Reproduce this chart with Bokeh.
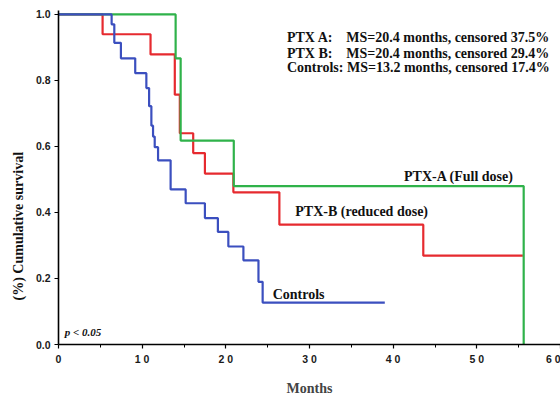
import math
from bokeh.plotting import figure
from bokeh.models import Label, Range1d, FixedTicker, Title
from bokeh.embed import file_html
from bokeh.resources import INLINE

# Kaplan-Meier step data (months, cumulative survival)
controls_t = [0, 6.35, 6.67, 7.46, 9.17, 10.5, 10.83, 11.1, 11.3, 11.5, 11.9, 13.4,
              15.2, 17.5, 19.05, 20.3, 22.1, 23.9, 24.4, 39.0]
controls_s = [1.0, 0.97, 0.914, 0.867, 0.822, 0.777, 0.722, 0.663, 0.63, 0.598, 0.558, 0.47,
              0.428, 0.383, 0.341, 0.297, 0.255, 0.19, 0.127, 0.127]

ptxb_t = [0, 5.27, 11.0, 13.9, 14.5, 16.1, 17.5, 20.9, 26.4, 43.6, 55.5]
ptxb_s = [1.0, 0.94, 0.879, 0.757, 0.64, 0.58, 0.518, 0.461, 0.363, 0.269, 0.269]

ptxa_t = [0, 14.0, 14.6, 20.95, 55.6]
ptxa_s = [1.0, 0.867, 0.618, 0.48, 0.0]

x_ticks = [0, 10, 20, 30, 40, 50, 60]
x_tick_labels = ["0", "1 0", "2 0", "3 0", "4 0", "5 0", "6 0"]
y_ticks = [0.0, 0.2, 0.4, 0.6, 0.8, 1.0]
y_tick_labels = ["0.0", "0.2", "0.4", "0.6", "0.8", "1.0"]

stats_names = ["PTX A:", "PTX B:"]
stats_texts = ["MS=20.4 months, censored 37.5%", "MS=20.4 months, censored 29.4%"]
stats_controls = "Controls: MS=13.2 months, censored 17.4%"

BLUE = "#3b4fbf"
RED = "#e62a2f"
GREEN = "#2fb24a"
SERIF = "Liberation Serif"
SANS = "Liberation Sans"

p = figure(width=560, height=398, output_backend="svg", toolbar_location=None,
           x_range=Range1d(0, 60), y_range=Range1d(0, 1.012),
           min_border_left=58, min_border_right=0, min_border_top=10, min_border_bottom=52)
p.grid.visible = False
p.outline_line_color = None
p.background_fill_color = "white"

p.step(ptxb_t, ptxb_s, mode="after", line_color=RED, line_width=2.2)
p.step(ptxa_t, ptxa_s, mode="after", line_color=GREEN, line_width=2.2)
p.step(controls_t, controls_s, mode="after", line_color=BLUE, line_width=2.2)

xa = p.xaxis[0]
xa.ticker = FixedTicker(ticks=x_ticks, minor_ticks=[5, 15, 25, 35, 45, 55])
xa.major_label_overrides = dict(zip(x_ticks, x_tick_labels))
xa.axis_label = "Months"
xa.axis_label_text_font = SERIF
xa.axis_label_text_font_style = "bold"
xa.axis_label_text_font_size = "14px"
xa.axis_label_standoff = 13

ya = p.yaxis[0]
ya.ticker = FixedTicker(ticks=y_ticks, minor_ticks=[])
ya.major_label_overrides = dict(zip(y_ticks, y_tick_labels))

for ax in (xa, ya):
    ax.axis_line_color = "black"
    ax.axis_line_width = 1.6
    ax.major_tick_line_color = "black"
    ax.major_tick_line_width = 1.2
    ax.minor_tick_line_color = "black"
    ax.major_tick_out = 4
    ax.major_tick_in = 0
    ax.minor_tick_out = 3
    ax.minor_tick_in = 0
    ax.major_label_text_font = SANS
    ax.major_label_text_font_style = "bold"
    ax.major_label_text_font_size = "10.5px"
    ax.major_label_text_color = "#1a1a1a"
    ax.major_label_standoff = 4

ytitle = Title(text="(%) Cumulative survival", align="left", offset=44, standoff=13,
               text_font=SERIF, text_font_style="bold", text_font_size="14px",
               text_color="#111111")
p.add_layout(ytitle, "left")

def lab(x, y, text, size="14px", style="bold", align="left", baseline="alphabetic"):
    p.add_layout(Label(x=x, y=y, text=text, text_font=SERIF, text_font_style=style,
                       text_font_size=size, text_align=align, text_baseline=baseline,
                       text_color="#111111"))

# stats block
lab(27.3, 0.931, stats_names[0])
lab(34.4, 0.931, stats_texts[0])
lab(27.3, 0.883, stats_names[1])
lab(34.4, 0.883, stats_texts[1])
lab(27.3, 0.838, stats_controls)

lab(41.3, 0.509, "PTX-A (Full dose)", baseline="middle")
lab(28.3, 0.404, "PTX-B (reduced dose)", baseline="middle")
lab(25.6, 0.153, "Controls", baseline="middle")
lab(0.75, 0.039, "p < 0.05", size="11px", style="bold italic", baseline="middle")

open("out.html", "w").write(file_html(p, INLINE))
